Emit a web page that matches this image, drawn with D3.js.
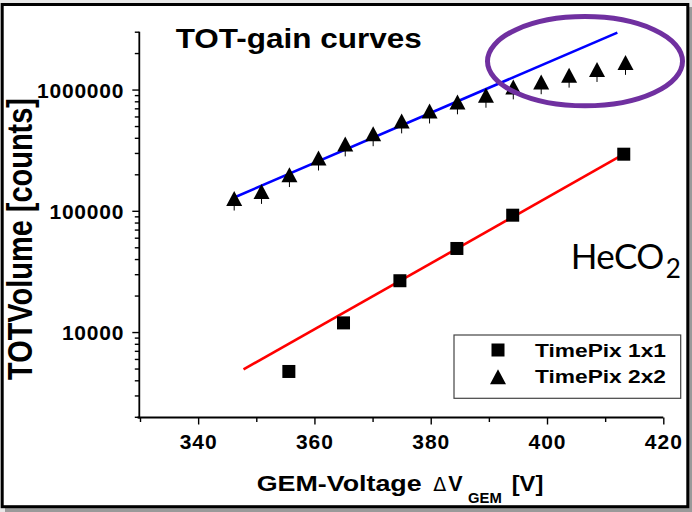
<!DOCTYPE html>
<html>
<head>
<meta charset="utf-8">
<script src="https://cdn.jsdelivr.net/npm/d3@7"></script>
<style>
  body { margin: 0; background: #e8e8e8; }
  svg { display: block; }
  text { font-family: "Liberation Sans", Arial, sans-serif; fill: #000; }
</style>
</head>
<body>
<svg id="chart" width="692" height="512"></svg>
<script>
// TOT-gain curves, HeCO2, TimePix 1x1 vs 2x2

// TimePix 2x2 (triangles)
var volt2x2 = [346.2, 350.9, 355.7, 360.7, 365.3, 370.1, 375.0, 379.8, 384.6, 389.5, 394.2, 399.0, 403.8, 408.6, 413.5];
var tot2x2 = [126500, 144000, 198000, 272000, 356000, 431000, 550000, 665000, 790000, 898000, 1050000, 1155000, 1312000, 1465000, 1672000];
var err2x2 = [26000, 30000, 41000, 57000, 75000, 90000, 115000, 140000, 165000, 190000, 220000, 240000, 275000, 310000, 350000];

// TimePix 1x1 (squares)
var volt1x1 = [355.6, 365.0, 374.7, 384.5, 394.1, 413.2];
var tot1x1 = [4730, 11900, 26500, 48900, 92000, 293000];

// exponential fits (end points)
var fitVolt2x2 = [346.0, 412.1];
var fitTot2x2 = [127600, 2950000];
var fitVolt1x1 = [347.8, 413.2];
var fitTot1x1 = [4920, 293000];

// axes
var xMajor = [340, 360, 380, 400, 420];
var xMinor = [330, 350, 370, 390, 410];
var yMajor = [10000, 100000, 1000000];
var yMinor = [2000, 3000, 4000, 5000, 6000, 7000, 8000, 9000,
  20000, 30000, 40000, 50000, 60000, 70000, 80000, 90000,
  200000, 300000, 400000, 500000, 600000, 700000, 800000, 900000,
  2000000, 3000000];

var legendLabels = ["TimePix 1x1", "TimePix 2x2"];

var svg = d3.select("#chart");

// frame with shadow
svg.append("rect").attr("x", 5).attr("y", 7).attr("width", 687).attr("height", 505).attr("fill", "#9a9a9a");
svg.append("rect")
  .attr("x", 2.2).attr("y", 4.5)
  .attr("width", 685.6).attr("height", 502.2)
  .attr("fill", "#fff").attr("stroke", "#000").attr("stroke-width", 3);

var x = d3.scaleLinear().domain([330, 420]).range([140, 663.3]);
var y = d3.scaleLog().domain([2000, 3000000]).range([416.8, 31.7]);

// x axis
var gx = svg.append("g").attr("transform", "translate(0,417.5)");
gx.call(d3.axisBottom(x).tickValues(xMinor).tickSize(4.5).tickFormat(""));
gx.select(".domain").remove();
var gx2 = svg.append("g").attr("transform", "translate(0,417.5)");
gx2.call(d3.axisBottom(x).tickValues(xMajor).tickSize(7).tickFormat(d3.format("d")));
gx2.select(".domain").attr("d", "M137.5,0H663.3").attr("stroke-width", 1.8);
gx2.selectAll(".tick text")
  .attr("y", 31.5).attr("dy", null)
  .style("font-size", "21px").style("font-weight", "bold").style("letter-spacing", "1px");

// y axis
var gy = svg.append("g").attr("transform", "translate(139.3,0)");
gy.call(d3.axisLeft(y).tickValues(yMinor).tickSize(4.5).tickFormat(""));
gy.select(".domain").remove();
var gy2 = svg.append("g").attr("transform", "translate(139.3,0)");
gy2.call(d3.axisLeft(y).tickValues(yMajor).tickSize(7).tickPadding(8).tickFormat(d3.format("d")));
gy2.select(".domain").attr("d", "M0,31.7V418.4").attr("stroke-width", 1.8);
gy2.selectAll(".tick text")
  .attr("dy", "7.5px")
  .style("font-size", "21px").style("font-weight", "bold").style("letter-spacing", "0.8px");
svg.selectAll(".tick line").attr("stroke-width", 1.4);
svg.selectAll(".tick text").attr("fill", "#000");

// fit lines
var line = d3.line().x(d => x(d[0])).y(d => y(d[1]));
svg.append("path")
  .datum(d3.zip(fitVolt2x2, fitTot2x2))
  .attr("d", line).attr("fill", "none").attr("stroke", "#0000ff").attr("stroke-width", 2.6);
svg.append("path")
  .datum(d3.zip(fitVolt1x1, fitTot1x1))
  .attr("d", line).attr("fill", "none").attr("stroke", "#ff0000").attr("stroke-width", 2.6);

// triangle shape centred on its bounding box
function tri(w, h) {
  return "M0," + (-h / 2) + "L" + (w / 2) + "," + (h / 2) + "L" + (-w / 2) + "," + (h / 2) + "Z";
}

// error bars (lower side)
svg.append("g").selectAll("line")
  .data(d3.range(volt2x2.length))
  .join("line")
  .attr("x1", i => x(volt2x2[i])).attr("x2", i => x(volt2x2[i]))
  .attr("y1", i => y(tot2x2[i]))
  .attr("y2", i => y(tot2x2[i] - err2x2[i]))
  .attr("stroke", "#000").attr("stroke-width", 1);

svg.append("g").selectAll("path")
  .data(d3.range(volt2x2.length))
  .join("path")
  .attr("d", tri(16, 15))
  .attr("transform", i => "translate(" + x(volt2x2[i]) + "," + y(tot2x2[i]) + ")")
  .attr("fill", "#000");

svg.append("g").selectAll("rect")
  .data(d3.range(volt1x1.length))
  .join("rect")
  .attr("x", i => x(volt1x1[i]) - 6.5)
  .attr("y", i => y(tot1x1[i]) - 6.5)
  .attr("width", 13).attr("height", 13)
  .attr("fill", "#000");

// title
svg.append("text")
  .attr("x", 175.7).attr("y", 48.3)
  .attr("textLength", 246).attr("lengthAdjust", "spacingAndGlyphs")
  .style("font-size", "28px").style("font-weight", "bold")
  .text("TOT-gain curves");

// HeCO2
var gas = svg.append("text")
  .attr("x", 570.7).attr("y", 269.3)
  .style("font-family", "Lato, 'Open Sans', sans-serif").style("font-size", "35px")
  .style("letter-spacing", "-0.6px");
gas.append("tspan").text("HeCO");
gas.append("tspan").attr("dx", 2).attr("dy", 9).style("font-size", "26px").text("2");

// axis titles
svg.append("text")
  .attr("transform", "translate(32.3,239) rotate(-90)")
  .attr("text-anchor", "middle")
  .attr("textLength", 282).attr("lengthAdjust", "spacingAndGlyphs")
  .style("font-family", "'Liberation Sans Narrow', 'Liberation Sans', Arial, sans-serif")
  .style("font-size", "35px").style("font-weight", "bold")
  .text("TOTVolume [counts]");

var xt = svg.append("g");
xt.append("text").attr("x", 256.7).attr("y", 490.7)
  .attr("textLength", 165).attr("lengthAdjust", "spacingAndGlyphs")
  .style("font-size", "21.5px").style("font-weight", "bold").text("GEM-Voltage");
xt.append("text").attr("x", 433.3).attr("y", 490.7)
  .style("font-family", "'DejaVu Sans', sans-serif")
  .style("font-size", "19px").style("font-weight", "normal").text("\u0394");
xt.append("text").attr("x", 448.3).attr("y", 490.7)
  .style("font-size", "21.5px").style("font-weight", "bold").text("V");
xt.append("text").attr("x", 468).attr("y", 503.3)
  .attr("textLength", 33.7).attr("lengthAdjust", "spacingAndGlyphs")
  .style("font-size", "14px").style("font-weight", "bold").text("GEM");
xt.append("text").attr("x", 511.7).attr("y", 490.7)
  .attr("textLength", 31.6).attr("lengthAdjust", "spacingAndGlyphs")
  .style("font-size", "21.5px").style("font-weight", "bold").text("[V]");

// legend
var lg = svg.append("g");
lg.append("rect")
  .attr("x", 454).attr("y", 335).attr("width", 226.7).attr("height", 63.3)
  .attr("fill", "#fff").attr("stroke", "#444").attr("stroke-width", 1.2);
lg.append("rect").attr("x", 498 - 6.5).attr("y", 350 - 6.5).attr("width", 13).attr("height", 13).attr("fill", "#000");
lg.append("path").attr("d", tri(16, 15)).attr("transform", "translate(498,376.7)").attr("fill", "#000");
lg.selectAll("text.lab")
  .data(legendLabels)
  .join("text")
  .attr("class", "lab")
  .attr("x", 535).attr("y", (d, i) => 357.3 + i * 26)
  .attr("textLength", 131).attr("lengthAdjust", "spacingAndGlyphs")
  .style("font-size", "18.5px").style("font-weight", "bold")
  .text(d => d);

// highlight ellipse
svg.append("ellipse")
  .attr("cx", 585).attr("cy", 61.2).attr("rx", 97.5).attr("ry", 44.6)
  .attr("fill", "none").attr("stroke", "#7030a0").attr("stroke-width", 5);
</script>
</body>
</html>
